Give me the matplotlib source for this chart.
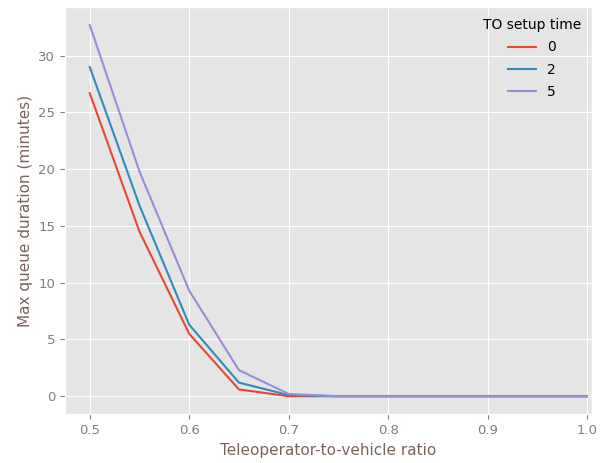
import matplotlib
matplotlib.use("Agg")
import matplotlib.pyplot as plt

plt.style.use("ggplot")

ratio = [0.5, 0.55, 0.6, 0.65, 0.7, 0.75, 0.8, 0.85, 0.9, 0.95, 1.0]
setup_times = ["0", "2", "5"]
queue_0 = [26.7, 14.5, 5.5, 0.6, 0.0, 0.0, 0.0, 0.0, 0.0, 0.0, 0.0]
queue_2 = [29.0, 16.8, 6.3, 1.2, 0.1, 0.0, 0.0, 0.0, 0.0, 0.0, 0.0]
queue_5 = [32.7, 19.8, 9.3, 2.3, 0.2, 0.0, 0.0, 0.0, 0.0, 0.0, 0.0]
series = [queue_0, queue_2, queue_5]
colors = ["#E24A33", "#348ABD", "#988ED5"]

fig, ax = plt.subplots(figsize=(6.01, 4.63), dpi=100)
for vals, lab, c in zip(series, setup_times, colors):
    ax.plot(ratio, vals, color=c, label=lab, linewidth=1.5)

label_color = "#7a635c"
ax.set_xlabel("Teleoperator-to-vehicle ratio", color=label_color, fontsize=11)
ax.set_ylabel("Max queue duration (minutes)", color=label_color, fontsize=11)
ax.tick_params(colors="#8a7a75", labelsize=9.5)
for t in ax.get_xticklabels() + ax.get_yticklabels():
    t.set_color("#8a7a75")
ax.set_xticks([0.5, 0.6, 0.7, 0.8, 0.9, 1.0])
ax.set_yticks([0, 5, 10, 15, 20, 25, 30])
ax.set_xlim(0.475, 1.005)
ax.set_ylim(-1.6, 34.3)

leg = ax.legend(title="TO setup time", loc="upper right", frameon=False,
                fontsize=10, title_fontsize=10, borderaxespad=0.4,
                labelspacing=0.6)

fig.subplots_adjust(left=0.108, right=0.985, top=0.985, bottom=0.105)
fig.savefig("out.png", dpi=100)
